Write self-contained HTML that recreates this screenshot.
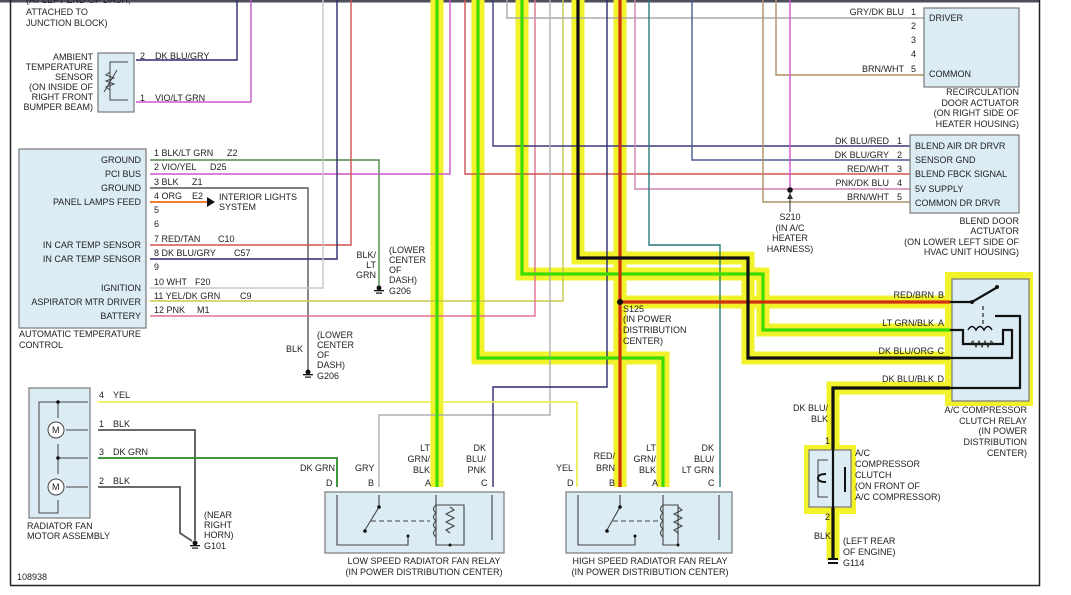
<!DOCTYPE html>
<html><head><meta charset="utf-8"><style>
html,body{margin:0;padding:0;background:#fff;}
svg{display:block;}
text{font-family:"Liberation Sans",sans-serif;font-size:9px;fill:#222;}
</style></head><body>
<svg width="1071" height="595" viewBox="0 0 1071 595" xmlns="http://www.w3.org/2000/svg">
<rect x="0" y="0" width="1071" height="595" fill="#fff"/>
<rect x="0" y="0" width="1040" height="2.5" fill="#4a4f5a"/>
<line x1="10.5" y1="0" x2="10.5" y2="585" stroke="#222" stroke-width="1.5"/>
<line x1="10" y1="585.5" x2="1040" y2="585.5" stroke="#222" stroke-width="1.5"/>
<line x1="1039.5" y1="0" x2="1039.5" y2="586" stroke="#222" stroke-width="1.5"/>

<g fill="none" stroke="#f2f22a" stroke-width="13" stroke-linejoin="miter">
<path d="M437,0 V487"/>
<path d="M478,0 V358 H663 V487"/>
<path d="M522,0 V274 H763 V330 H950"/>
<path d="M620,0 V487"/>
<path d="M620,302 H950"/>
<path d="M578,0 V258 H748 V358 H950"/>
<path d="M950,388 H833 V560"/>
</g>
<rect x="945" y="272" width="88" height="134" fill="#f2f22a"/>
<rect x="804" y="445" width="52" height="69" fill="#f2f22a"/>

<g fill="none" stroke-width="1.4">
<path d="M136,60 H237 V0" stroke="#2a2a70"/>
<path d="M136,102 H251 V0" stroke="#cc55cc"/>
<path d="M150,160 H379 V288" stroke="#4a8a4a"/>
<path d="M150,174 H450 V0" stroke="#cc55cc"/>
<path d="M150,188 H308 V370" stroke="#555"/>
<path d="M150,202 H207" stroke="#f08030" stroke-width="2"/>
<path d="M150,245 H351 V0" stroke="#d05050"/>
<path d="M150,259 H337 V0" stroke="#2a2a70"/>
<path d="M150,288 H323 V0" stroke="#c8c8c8"/>
<path d="M150,301 H563 V0" stroke="#c8c84a"/>
<path d="M150,316 H535 V0" stroke="#e07090"/>
<path d="M465,0 V174 H910" stroke="#d05050"/>
<path d="M493,0 V146 H910" stroke="#3a3a80"/>
<path d="M507,0 V18 H924" stroke="#aaa"/>
<path d="M550,0 V415 H379 V487" stroke="#b0b0b0"/>
<path d="M607,0 V387 H493 V487" stroke="#2a2a70"/>
<path d="M635,0 V189 H910" stroke="#d080b0"/>
<path d="M649,0 V245 H720 V487" stroke="#2a7a7a"/>
<path d="M692,0 V160 H910" stroke="#4a5a90"/>
<path d="M763,0 V202 H910" stroke="#b09060"/>
<path d="M776,0 V75 H924" stroke="#b09060"/>
<path d="M790,0 V189" stroke="#cc55cc"/>
<path d="M98,402 H577 V487" stroke="#eeee55" stroke-width="1.8"/>
<path d="M98,430 H195 V540" stroke="#555" stroke-width="1.8"/>
<path d="M98,458 H337 V487" stroke="#2a8a2a" stroke-width="1.8"/>
<path d="M98,487 H180 V533 L192,541" stroke="#555" stroke-width="1.8"/>
</g>
<polygon points="207,197 215,202 207,207" fill="#111"/>
<circle cx="790" cy="190" r="2.8" fill="#111"/>
<path d="M790,193 V212" stroke="#333" stroke-width="1"/>
<polygon points="787,199 790,193 793,199" fill="#333"/>

<g fill="none" stroke-width="3.2">
<path d="M437,0 V487" stroke="#3ddc00"/>
<path d="M478,0 V358 H663 V487" stroke="#3ddc00"/>
<path d="M522,0 V274 H763 V330 H950" stroke="#3ddc00"/>
<path d="M620,0 V487" stroke="#d03010"/>
<path d="M620,302 H950" stroke="#d03010"/>
<path d="M578,0 V258 H748 V358 H950" stroke="#111"/>
<path d="M950,388 H833 V560" stroke="#111"/>
</g>
<circle cx="620" cy="302" r="3" fill="#111"/>

<rect x="98" y="53" width="36" height="59" fill="#dcecf5" stroke="#777" stroke-width="1.2"/>
<path d="M128,62 H110 V100 H128" fill="none" stroke="#444"/>
<path d="M110,72 l-4,3 l8,3 l-8,3 l8,3 l-8,3 l4,3" fill="none" stroke="#444"/>
<line x1="104" y1="92" x2="117" y2="70" stroke="#444"/>
<text x="140" y="59">2</text><text x="155" y="59">DK BLU/GRY</text>
<text x="140" y="101">1</text><text x="155" y="101">VIO/LT GRN</text>
<g text-anchor="end">
<text x="93" y="60">AMBIENT</text><text x="93" y="70">TEMPERATURE</text><text x="93" y="80">SENSOR</text>
<text x="93" y="90">(ON INSIDE OF</text><text x="93" y="100">RIGHT FRONT</text><text x="93" y="110">BUMPER BEAM)</text>
</g>
<text x="26" y="3">(AT LEFT END OF DASH,</text>
<text x="26" y="15">ATTACHED TO</text>
<text x="26" y="26">JUNCTION BLOCK)</text>

<rect x="19" y="149" width="127" height="179" fill="#dcecf5" stroke="#777" stroke-width="1.2"/>
<g text-anchor="end">
<text x="141" y="163">GROUND</text><text x="141" y="177">PCI BUS</text><text x="141" y="191">GROUND</text>
<text x="141" y="205">PANEL LAMPS FEED</text><text x="141" y="248">IN CAR TEMP SENSOR</text>
<text x="141" y="262">IN CAR TEMP SENSOR</text><text x="141" y="291">IGNITION</text>
<text x="141" y="305">ASPIRATOR MTR DRIVER</text><text x="141" y="319">BATTERY</text>
</g>
<g>
<text x="154" y="156">1  BLK/LT GRN</text><text x="227" y="156">Z2</text>
<text x="154" y="170">2  VIO/YEL</text><text x="210" y="170">D25</text>
<text x="154" y="185">3  BLK</text><text x="192" y="185">Z1</text>
<text x="154" y="199">4  ORG</text><text x="192" y="199">E2</text>
<text x="154" y="213">5</text><text x="154" y="227">6</text>
<text x="154" y="242">7  RED/TAN</text><text x="218" y="242">C10</text>
<text x="154" y="256">8  DK BLU/GRY</text><text x="234" y="256">C57</text>
<text x="154" y="270">9</text>
<text x="154" y="285">10  WHT</text><text x="195" y="285">F20</text>
<text x="154" y="299">11  YEL/DK GRN</text><text x="240" y="299">C9</text>
<text x="154" y="313">12  PNK</text><text x="197" y="313">M1</text>
</g>
<text x="219" y="200">INTERIOR LIGHTS</text><text x="219" y="210">SYSTEM</text>
<text x="19" y="337">AUTOMATIC TEMPERATURE</text><text x="19" y="348">CONTROL</text>
<g text-anchor="end"><text x="376" y="258">BLK/</text><text x="376" y="268">LT</text><text x="376" y="278">GRN</text></g>
<text x="389" y="253">(LOWER</text><text x="389" y="263">CENTER</text><text x="389" y="273">OF</text><text x="389" y="283">DASH)</text><text x="389" y="294">G206</text>
<text x="286" y="352">BLK</text>
<text x="317" y="338">(LOWER</text><text x="317" y="348">CENTER</text><text x="317" y="358">OF</text><text x="317" y="368">DASH)</text><text x="317" y="379">G206</text>
<g fill="#111"><circle cx="379" cy="288" r="2.5"/><rect x="374" y="290" width="10" height="1.3"/><rect x="376" y="292.5" width="6" height="1.2"/>
<circle cx="308" cy="372" r="2.5"/><rect x="303" y="374" width="10" height="1.3"/><rect x="305" y="376.5" width="6" height="1.2"/>
<circle cx="195" cy="543" r="2.5"/><rect x="190" y="545" width="10" height="1.3"/><rect x="192" y="547.5" width="6" height="1.2"/></g>

<rect x="29" y="388" width="61" height="130" fill="#dcecf5" stroke="#777" stroke-width="1.2"/>
<path d="M88,402 H39 V513 H58 V500 M58,474 V444 M58,418 V402 M58,458 H88 M66,430 H88 M66,487 H88" fill="none" stroke="#444"/>
<circle cx="56" cy="430" r="8" fill="#fff" stroke="#444"/><text x="52" y="433">M</text>
<circle cx="56" cy="487" r="8" fill="#fff" stroke="#444"/><text x="52" y="490">M</text>
<circle cx="58" cy="402" r="1.8" fill="#111"/><circle cx="58" cy="458" r="1.8" fill="#111"/>
<text x="99" y="398">4</text><text x="113" y="398">YEL</text>
<text x="99" y="427">1</text><text x="113" y="427">BLK</text>
<text x="99" y="455">3</text><text x="113" y="455">DK GRN</text>
<text x="99" y="484">2</text><text x="113" y="484">BLK</text>
<text x="27" y="529">RADIATOR FAN</text><text x="27" y="539">MOTOR ASSEMBLY</text>
<text x="204" y="518">(NEAR</text><text x="204" y="528">RIGHT</text><text x="204" y="538">HORN)</text><text x="204" y="549">G101</text>
<text x="17" y="580">108938</text>

<rect x="325" y="492" width="179" height="61" fill="#dcecf5" stroke="#777" stroke-width="1.2"/>
<g fill="none" stroke="#444" stroke-width="1.1">
<path d="M337,495 V545 H408 V537"/>
<path d="M379,495 V507 L365,530"/><path d="M371,521 H430" stroke-dasharray="5,3"/>
<path d="M436,495 V545 H464 V505 H436"/><path d="M436,505 q-5,4 0,8 q-5,4 0,8 q-5,4 0,8 q-5,4 0,8"/>
<path d="M450,507 l4,3 l-8,4 l8,4 l-8,4 l8,4 l-8,4 l4,3"/>
<path d="M492,495 V540"/>
</g>
<circle cx="379" cy="507" r="1.8" fill="#111"/><circle cx="365" cy="531" r="1.8" fill="#111"/><circle cx="408" cy="536" r="1.5" fill="#111"/><circle cx="450" cy="545" r="1.5" fill="#111"/>
<text x="300" y="471">DK GRN</text><text x="355" y="471">GRY</text>
<g text-anchor="end"><text x="430" y="451">LT</text><text x="430" y="462">GRN/</text><text x="430" y="473">BLK</text>
<text x="486" y="451">DK</text><text x="486" y="462">BLU/</text><text x="486" y="473">PNK</text></g>
<text x="326" y="486">D</text><text x="368" y="486">B</text><text x="425" y="486">A</text><text x="481" y="486">C</text>
<text x="424" y="564" text-anchor="middle">LOW SPEED RADIATOR FAN RELAY</text>
<text x="424" y="575" text-anchor="middle">(IN POWER DISTRIBUTION CENTER)</text>

<rect x="566" y="492" width="166" height="61" fill="#dcecf5" stroke="#777" stroke-width="1.2"/>
<g fill="none" stroke="#444" stroke-width="1.1">
<path d="M578,495 V545 H635 V537"/>
<path d="M620,495 V507 L607,530"/><path d="M613,521 H658" stroke-dasharray="5,3"/>
<path d="M663,495 V545 H678 V505 H663"/><path d="M663,505 q-5,4 0,8 q-5,4 0,8 q-5,4 0,8 q-5,4 0,8"/>
<path d="M678,507 l4,3 l-8,4 l8,4 l-8,4 l8,4 l-8,4 l4,3"/>
<path d="M719,495 V540"/>
</g>
<circle cx="620" cy="507" r="1.8" fill="#111"/><circle cx="607" cy="531" r="1.8" fill="#111"/><circle cx="635" cy="536" r="1.5" fill="#111"/><circle cx="678" cy="545" r="1.5" fill="#111"/>
<g text-anchor="end"><text x="573" y="471">YEL</text>
<text x="615" y="459">RED/</text><text x="615" y="471">BRN</text>
<text x="656" y="451">LT</text><text x="656" y="462">GRN/</text><text x="656" y="473">BLK</text>
<text x="714" y="451">DK</text><text x="714" y="462">BLU/</text><text x="714" y="473">LT GRN</text></g>
<text x="567" y="486">D</text><text x="609" y="486">B</text><text x="652" y="486">A</text><text x="708" y="486">C</text>
<text x="650" y="564" text-anchor="middle">HIGH SPEED RADIATOR FAN RELAY</text>
<text x="650" y="575" text-anchor="middle">(IN POWER DISTRIBUTION CENTER)</text>
<text x="623" y="312">S125</text><text x="623" y="322">(IN POWER</text><text x="623" y="333">DISTRIBUTION</text><text x="623" y="344">CENTER)</text>

<rect x="924" y="8" width="95" height="79" fill="#dcecf5" stroke="#777" stroke-width="1.2"/>
<text x="929" y="21">DRIVER</text><text x="929" y="77">COMMON</text>
<g text-anchor="end">
<text x="904" y="15">GRY/DK BLU</text><text x="916" y="15">1</text>
<text x="916" y="29">2</text><text x="916" y="43">3</text><text x="916" y="57">4</text>
<text x="904" y="72">BRN/WHT</text><text x="916" y="72">5</text>
<text x="1019" y="95">RECIRCULATION</text><text x="1019" y="106">DOOR ACTUATOR</text>
<text x="1019" y="116">(ON RIGHT SIDE OF</text><text x="1019" y="127">HEATER HOUSING)</text>
</g>
<rect x="910" y="135" width="109" height="78" fill="#dcecf5" stroke="#777" stroke-width="1.2"/>
<text x="915" y="149">BLEND AIR DR DRVR</text><text x="915" y="163">SENSOR GND</text>
<text x="915" y="177">BLEND FBCK SIGNAL</text><text x="915" y="192">5V SUPPLY</text><text x="915" y="206">COMMON DR DRVR</text>
<g text-anchor="end">
<text x="889" y="144">DK BLU/RED</text><text x="902" y="144">1</text>
<text x="889" y="158">DK BLU/GRY</text><text x="902" y="158">2</text>
<text x="889" y="172">RED/WHT</text><text x="902" y="172">3</text>
<text x="889" y="186">PNK/DK BLU</text><text x="902" y="186">4</text>
<text x="889" y="200">BRN/WHT</text><text x="902" y="200">5</text>
<text x="1019" y="224">BLEND DOOR</text><text x="1019" y="234">ACTUATOR</text>
<text x="1019" y="245">(ON LOWER LEFT SIDE OF</text><text x="1019" y="255">HVAC UNIT HOUSING)</text>
</g>
<g text-anchor="middle"><text x="790" y="220">S210</text><text x="790" y="231">(IN A/C</text><text x="790" y="241">HEATER</text><text x="790" y="252">HARNESS)</text></g>

<rect x="952" y="279" width="77" height="122" fill="#dcecf5" stroke="#777" stroke-width="1.2"/>
<g fill="none" stroke="#111" stroke-width="2.2">
<path d="M950,302 H972 L996,288"/>
<path d="M950,330 H963 V344 H1003 V330 H1012 V358 H950"/>
<path d="M950,388 H1020 V316 H995"/>
</g>
<path d="M983,306 V326" stroke="#333" stroke-dasharray="4,3" stroke-width="1.3"/>
<path d="M968,330 q4,-7 8,0 q4,-7 8,0 q4,-7 8,0" fill="none" stroke="#111" stroke-width="1.5"/>
<path d="M970,344 l3,-3 l3,6 l3,-6 l3,6 l3,-6 l3,6 l3,-6 l3,3" fill="none" stroke="#333" stroke-width="1"/>
<circle cx="972" cy="302" r="2" fill="#111"/><circle cx="997" cy="287" r="2" fill="#111"/>
<g text-anchor="end">
<text x="934" y="298">RED/BRN</text><text x="944" y="298">B</text>
<text x="934" y="326">LT GRN/BLK</text><text x="944" y="326">A</text>
<text x="934" y="354">DK BLU/ORG</text><text x="944" y="354">C</text>
<text x="934" y="382">DK BLU/BLK</text><text x="944" y="382">D</text>
<text x="1027" y="413">A/C COMPRESSOR</text><text x="1027" y="424">CLUTCH RELAY</text>
<text x="1027" y="434">(IN POWER</text><text x="1027" y="445">DISTRIBUTION</text><text x="1027" y="456">CENTER)</text>
<text x="828" y="411">DK BLU/</text><text x="828" y="422">BLK</text>
<text x="831" y="539">BLK</text>
</g>
<rect x="809" y="450" width="42" height="57" fill="#dcecf5" stroke="#777" stroke-width="1.2"/>
<path d="M833,445 V513" stroke="#111" stroke-width="2.2"/>
<path d="M828,460 H818 V497 H828" fill="none" stroke="#444"/>
<path d="M826,474 q-8,0 -8,4 q0,4 8,4" fill="none" stroke="#111" stroke-width="2"/>
<path d="M845,467 V492" stroke="#111" stroke-width="2"/>
<text x="825" y="444">1</text><text x="825" y="520">2</text>
<text x="855" y="456">A/C</text><text x="855" y="467">COMPRESSOR</text><text x="855" y="478">CLUTCH</text><text x="855" y="489">(ON FRONT OF</text><text x="855" y="500">A/C COMPRESSOR)</text>
<text x="843" y="544">(LEFT REAR</text><text x="843" y="555">OF ENGINE)</text><text x="843" y="566">G114</text>
<g fill="#111"><rect x="828" y="558" width="10" height="2"/><rect x="828" y="562" width="10" height="2"/></g>
</svg>
</body></html>
